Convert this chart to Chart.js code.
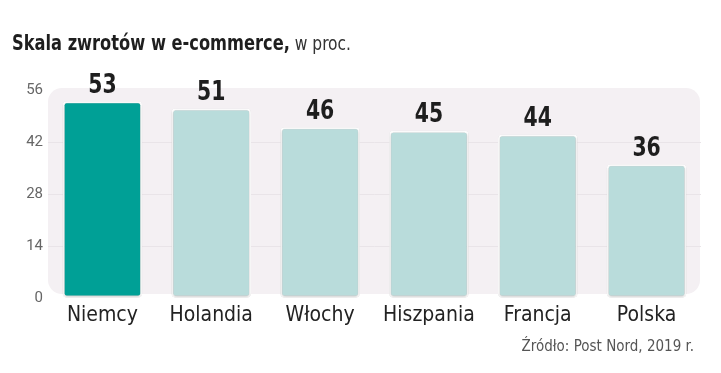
<!DOCTYPE html>
<html>
<head>
<meta charset="utf-8">
<script src="https://cdn.jsdelivr.net/npm/chart.js@4"></script>
<style>
  html, body { margin: 0; padding: 0; background: #fff; }
  canvas { display: block; }
</style>
</head>
<body>
<canvas id="returnsChart" width="721" height="373"></canvas>
<script>
// Data
const countries = ['Niemcy', 'Holandia', 'Włochy', 'Hiszpania', 'Francja', 'Polska'];
const returnRates = [53, 51, 46, 45, 44, 36];
const yTicks = [0, 14, 28, 42, 56];

const narrow = "'Liberation Sans Narrow', 'DejaVu Sans Condensed', 'Roboto', sans-serif";

// draw text squeezed horizontally
function squeezed(ctx, text, x, y, sx) {
    ctx.save();
    ctx.translate(x, y);
    ctx.scale(sx, 1);
    ctx.fillText(text, 0, 0);
    ctx.restore();
}

// Rounded panel behind the plot, title, source note, value labels
const framePlugin = {
    id: 'frame',
    beforeDraw(chart) {
        const { ctx, chartArea } = chart;
        const x = chartArea.left, y = chartArea.top - 2;
        const w = chartArea.right - 1 - x, h = chartArea.bottom - 4 - y;
        ctx.save();
        ctx.fillStyle = '#f4f0f3';
        ctx.beginPath();
        ctx.roundRect(x, y, w, h, 14);
        ctx.fill();

        // Title
        ctx.textBaseline = 'alphabetic';
        ctx.fillStyle = '#1e1e1e';
        ctx.font = "bold 21px " + narrow;
        const bold = 'Skala zwrotów w e-commerce,';
        const sx = 0.86;
        squeezed(ctx, bold, 12, 50, sx);
        const bw = ctx.measureText(bold).width * sx;
        ctx.fillStyle = '#333';
        ctx.font = "20px " + narrow;
        squeezed(ctx, ' w proc.', 12 + bw, 50, sx);

        // Source
        ctx.fillStyle = '#555';
        ctx.font = "15px " + narrow;
        ctx.textAlign = 'right';
        ctx.fillText('Źródło: Post Nord, 2019 r.', 694, 351);
        ctx.restore();
    },
    beforeDatasetsDraw(chart) {
        const ctx = chart.ctx;
        ctx.save();
        ctx.shadowColor = 'rgba(0,0,0,0.25)';
        ctx.shadowBlur = 3;
        ctx.shadowOffsetY = 1;
    },
    afterDatasetsDraw(chart) {
        chart.ctx.restore();
        const { ctx } = chart;
        const meta = chart.getDatasetMeta(0);
        ctx.save();
        ctx.fillStyle = '#1e1e1e';
        ctx.font = "bold 27px " + narrow;
        ctx.textAlign = 'center';
        ctx.textBaseline = 'bottom';
        meta.data.forEach((bar, i) => {
            squeezed(ctx, String(returnRates[i]), bar.x, bar.y - 2, 0.84);
        });
        ctx.restore();
    }
};

const ctx = document.getElementById('returnsChart').getContext('2d');
new Chart(ctx, {
    type: 'bar',
    data: {
        labels: countries,
        datasets: [{
            data: returnRates,
            backgroundColor: countries.map((c, i) => i === 0 ? '#00a096' : '#b9dcdb'),
            borderColor: '#ffffff',
            borderWidth: 2,
            borderRadius: 4,
            borderSkipped: false,
            barPercentage: 0.73,
            categoryPercentage: 1
        }]
    },
    options: {
        responsive: false,
        animation: false,
        layout: { padding: { left: 0, right: 20, top: 90, bottom: 0 } },
        plugins: {
            legend: { display: false },
            tooltip: { enabled: false }
        },
        scales: {
            x: {
                grid: { display: false },
                border: { display: false },
                ticks: {
                    color: '#222',
                    font: { family: narrow, size: 21 },
                    padding: -3
                },
                afterFit(scale) { scale.height = 75; }
            },
            y: {
                min: 0,
                max: 56,
                afterBuildTicks(scale) {
                    scale.ticks = yTicks.map(v => ({ value: v }));
                },
                grid: {
                    color: (c) => (c.tick && (c.tick.value === 0 || c.tick.value === 56)) ? 'rgba(0,0,0,0)' : '#e9e4e8',
                    lineWidth: 1,
                    drawTicks: false
                },
                border: { display: false },
                ticks: {
                    color: '#666',
                    font: { family: 'Roboto, sans-serif', size: 15 },
                    padding: 5
                },
                afterFit(scale) { scale.width = 48; }
            }
        }
    },
    plugins: [framePlugin]
});
</script>
</body>
</html>
